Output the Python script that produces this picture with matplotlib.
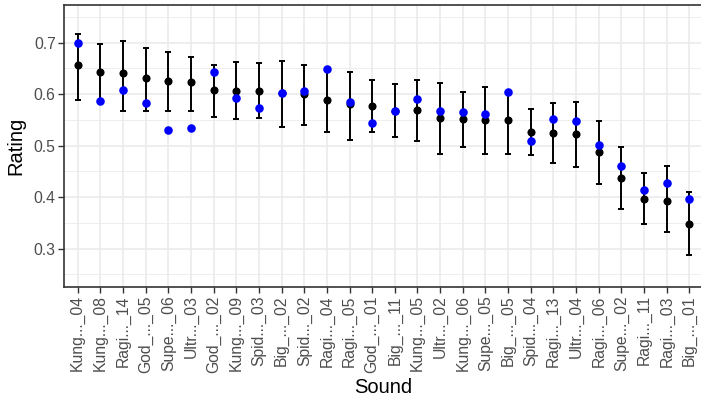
import matplotlib.pyplot as plt
import numpy as np

sounds = ["Kung..._04", "Kung..._08", "Ragi..._14", "God_..._05", "Supe..._06", "Ultr..._03",
          "God_..._02", "Kung..._09", "Spid..._03", "Big_..._02", "Spid..._02", "Ragi..._04",
          "Ragi..._05", "God_..._01", "Big_..._11", "Kung..._05", "Ultr..._02", "Kung..._06",
          "Supe..._05", "Big_..._05", "Spid..._04", "Ragi..._13", "Ultr..._04", "Ragi..._06",
          "Supe..._02", "Ragi..._11", "Ragi..._03", "Big_..._01"]

mean_rating = [0.657, 0.644, 0.641, 0.631, 0.626, 0.623, 0.608, 0.607, 0.607, 0.602,
               0.600, 0.588, 0.580, 0.577, 0.568, 0.569, 0.553, 0.552, 0.549, 0.549,
               0.527, 0.525, 0.523, 0.487, 0.437, 0.396, 0.393, 0.347]
upper = [0.717, 0.698, 0.703, 0.689, 0.681, 0.673, 0.657, 0.663, 0.661, 0.664,
         0.656, 0.648, 0.644, 0.628, 0.620, 0.627, 0.621, 0.604, 0.613, 0.604,
         0.571, 0.582, 0.585, 0.547, 0.498, 0.446, 0.461, 0.410]
lower = [0.589, 0.589, 0.568, 0.568, 0.567, 0.568, 0.556, 0.552, 0.553, 0.537,
         0.540, 0.527, 0.512, 0.526, 0.517, 0.510, 0.483, 0.498, 0.483, 0.484,
         0.481, 0.466, 0.459, 0.425, 0.378, 0.348, 0.332, 0.287]
blue_rating = [0.700, 0.587, 0.608, 0.582, 0.530, 0.534, 0.643, 0.592, 0.573, 0.603,
               0.606, 0.648, 0.584, 0.544, 0.568, 0.591, 0.568, 0.566, 0.562, 0.604,
               0.510, 0.551, 0.548, 0.501, 0.461, 0.413, 0.427, 0.397]

plt.rcParams['font.family'] = ['Liberation Sans', 'DejaVu Sans']

fig = plt.figure(figsize=(7.01, 4.05), dpi=100)
ax = fig.add_axes([64 / 701, 1 - 287 / 405, (703 - 64) / 701, (287 - 5) / 405])

x = np.arange(len(sounds))
mean_rating = np.array(mean_rating)
err = [mean_rating - np.array(lower), np.array(upper) - mean_rating]

ax.errorbar(x, mean_rating, yerr=err, fmt='none', ecolor='black', elinewidth=1.4,
            capsize=2.3, capthick=1.4, zorder=3)
ax.scatter(x, mean_rating, s=34, color='black', zorder=4, linewidths=0)
ax.scatter(x, blue_rating, s=38, color='#0000FF', zorder=5, linewidths=0)

ax.set_xlim(-0.6, len(sounds) - 0.4)
ax.set_ylim(0.2256, 0.7732)
ax.set_xticks(x)
ax.set_xticklabels(sounds, rotation=90, color='#4D4D4D', fontsize=11.3)
ax.set_yticks([0.3, 0.4, 0.5, 0.6, 0.7])
ax.set_yticklabels(["0.3", "0.4", "0.5", "0.6", "0.7"], color='#4D4D4D', fontsize=11.3)
ax.set_yticks([0.25, 0.35, 0.45, 0.55, 0.65, 0.75], minor=True)
ax.tick_params(which='major', length=4, width=1, color='#333333', pad=2)
ax.tick_params(which='minor', length=0)

ax.grid(True, which='major', color='#EBEBEB', linewidth=1.2)
ax.grid(True, which='minor', axis='y', color='#EBEBEB', linewidth=0.6)
ax.set_axisbelow(True)
for s in ax.spines.values():
    s.set_color('#333333')
    s.set_linewidth(1.2)

ax.set_xlabel("Sound", fontsize=14.5, labelpad=4)
ax.set_ylabel("Rating", fontsize=14.5, labelpad=6)

fig.savefig("out.png", dpi=100)
